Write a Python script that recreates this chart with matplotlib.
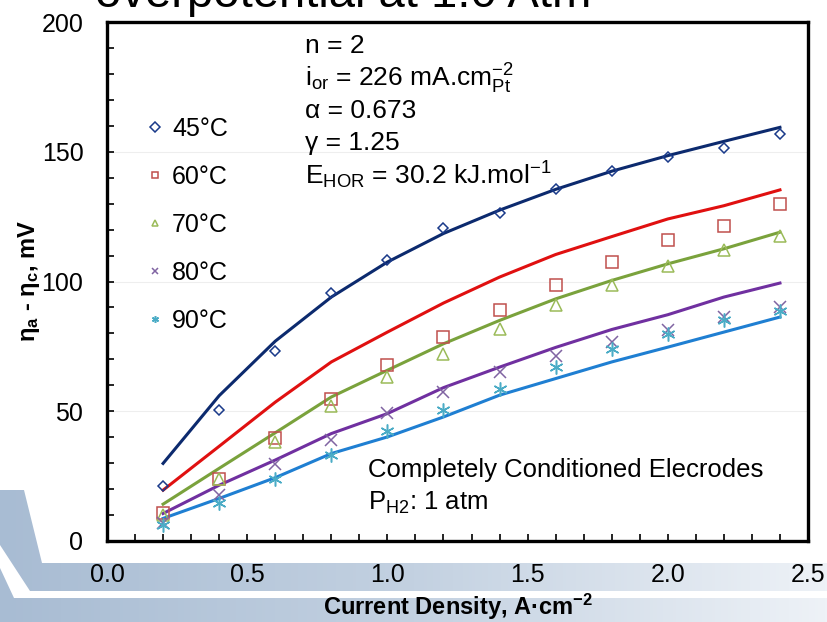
import matplotlib
matplotlib.use("Agg")
import matplotlib.pyplot as plt
import matplotlib.ticker as mtick
import numpy as np
from matplotlib.patches import Polygon

plt.rcParams["font.family"] = ["Liberation Sans", "DejaVu Sans"]
plt.rcParams["mathtext.fontset"] = "custom"
plt.rcParams["mathtext.rm"] = "Liberation Sans"
plt.rcParams["mathtext.it"] = "Liberation Sans:italic"
plt.rcParams["mathtext.bf"] = "Liberation Sans:bold"

# Data
current_density = [0.2, 0.4, 0.6, 0.8, 1.0, 1.2, 1.4, 1.6, 1.8, 2.0, 2.2, 2.4]
temps = ["45°C", "60°C", "70°C", "80°C", "90°C"]

meas_45 = [21.3, 50.4, 73.2, 95.6, 108.3, 120.5, 126.3, 135.6, 142.4, 147.8, 151.3, 156.8]
meas_60 = [10.6, 24.0, 39.7, 54.7, 67.7, 78.8, 89.2, 98.7, 107.4, 116.0, 121.5, 129.9]
meas_70 = [10.0, 23.8, 38.2, 51.9, 63.2, 72.2, 81.8, 91.0, 98.8, 105.9, 112.2, 117.7]
meas_80 = [6.8, 17.7, 29.5, 38.8, 49.3, 57.4, 65.1, 71.2, 76.7, 81.3, 86.3, 90.1]
meas_90 = [6.2, 14.7, 23.7, 33.3, 42.3, 50.4, 58.7, 67.0, 74.1, 79.9, 85.0, 88.8]

model_45 = [29.9, 56.0, 77.0, 94.0, 107.5, 118.5, 127.5, 135.5, 142.5, 148.5, 154.0, 159.4]
model_60 = [19.6, 36.5, 53.5, 69.0, 80.5, 91.7, 101.7, 110.4, 117.3, 124.1, 129.2, 135.3]
model_70 = [14.2, 28.0, 41.7, 55.5, 65.8, 76.0, 85.0, 93.3, 100.4, 106.8, 112.6, 119.0]
model_80 = [10.6, 21.5, 31.2, 41.4, 49.1, 59.1, 67.0, 74.6, 81.5, 87.2, 94.0, 99.4]
model_90 = [8.7, 16.4, 24.4, 33.7, 40.1, 47.8, 56.2, 62.6, 69.0, 74.7, 80.5, 86.3]

measured = [meas_45, meas_60, meas_70, meas_80, meas_90]
models = [model_45, model_60, model_70, model_80, model_90]

line_colors = ["#0c2a6e", "#e01010", "#7aa23c", "#7030a0", "#1f7fd2"]
marker_colors = ["#1a3a8a", "#c0504d", "#9bbb59", "#8064a2", "#4bacc6"]
markers = ["D", "s", "^", "x", (6, 2, 0)]
marker_sizes = [5.5, 8, 8, 9, 10]

fig = plt.figure(figsize=(8.28, 6.22), dpi=100)

# slide template band in the lower left corner
bg = fig.add_axes([0, 0, 1, 1], zorder=-1)
bg.set_xlim(0, 828)
bg.set_ylim(622, 0)
bg.axis("off")
grad = np.linspace(0, 1, 256).reshape(1, -1)
cmap = matplotlib.colors.LinearSegmentedColormap.from_list(
    "band", ["#a8bcd3", "#c3d1e1", "#eef2f7"])
bands = [
    [(0, 490), (24, 490), (42, 563), (828, 563), (828, 591), (30, 591), (0, 545)],
    [(0, 568), (14, 598), (828, 598), (828, 622), (0, 622)],
]
for pts in bands:
    poly = Polygon(pts, closed=True, facecolor="none", edgecolor="none")
    bg.add_patch(poly)
    im = bg.imshow(grad, extent=(0, 828, 622, 470), cmap=cmap, aspect="auto")
    im.set_clip_path(poly)

# cut-off slide title
fig.text(95 / 828, 1 + 5 / 622, "overpotential at 1.0 Atm", fontsize=34,
         ha="left", va="center")

ax = fig.add_axes([107 / 828, 1 - 541 / 622, 701 / 828, 519 / 622])
ax.patch.set_alpha(0)

for i in range(len(temps)):
    ax.plot(current_density, models[i], "-", color=line_colors[i], linewidth=2.2, zorder=2)
    ax.plot(current_density, measured[i], linestyle="none", marker=markers[i],
            markersize=marker_sizes[i], markerfacecolor="none",
            markeredgecolor=marker_colors[i], markeredgewidth=1.1,
            label=temps[i], zorder=3)

ax.set_xlim(0, 2.5)
ax.set_ylim(0, 200)
ax.xaxis.set_major_locator(mtick.MultipleLocator(0.5))
ax.xaxis.set_minor_locator(mtick.MultipleLocator(0.1))
ax.yaxis.set_major_locator(mtick.MultipleLocator(50))
ax.yaxis.set_minor_locator(mtick.MultipleLocator(10))
ax.xaxis.set_major_formatter(mtick.FormatStrFormatter("%.1f"))
ax.tick_params(which="both", direction="in", length=5, width=1.2, labelsize=18)
ax.tick_params(axis="y", pad=17)
ax.tick_params(axis="x", pad=16)
for s in ax.spines.values():
    s.set_linewidth(2.4)
ax.grid(axis="y", which="major", color="#eeeeee", linewidth=0.8, zorder=0)

ax.set_xlabel("Current Density, A·cm$^{\\mathbf{-2}}$", fontsize=17, fontweight="bold", labelpad=3)
ax.set_ylabel("η$_\\mathbf{a}$ - η$_\\mathbf{c}$, mV", fontsize=17, fontweight="bold", labelpad=0)

leg = ax.legend(loc="upper left", bbox_to_anchor=(0.043, 0.836), frameon=False,
                fontsize=18, labelspacing=0.96, handlelength=0.6, handletextpad=0.4,
                borderaxespad=0)
for h in leg.legend_handles:
    h.set_markersize(5)

# annotation with the fit parameters
notes = [
    "n = 2",
    "i$_{\\mathrm{or}}$ = 226 mA.cm$_{\\mathrm{Pt}}^{\\mathrm{-2}}$",
    "α = 0.673",
    "γ = 1.25",
    "E$_{\\mathrm{HOR}}$ = 30.2 kJ.mol$^{\\mathrm{-1}}$",
]
note_y = [190.8, 178.0, 165.8, 153.5, 140.8]
for txt, yy in zip(notes, note_y):
    ax.text(0.706, yy, txt, fontsize=19, ha="left", va="center")

ax.text(0.93, 27.3, "Completely Conditioned Elecrodes", fontsize=18.5, ha="left", va="center")
ax.text(0.93, 14.6, "P$_{\\mathrm{H2}}$: 1 atm", fontsize=18.5, ha="left", va="center")

fig.savefig("out.png", dpi=100)
